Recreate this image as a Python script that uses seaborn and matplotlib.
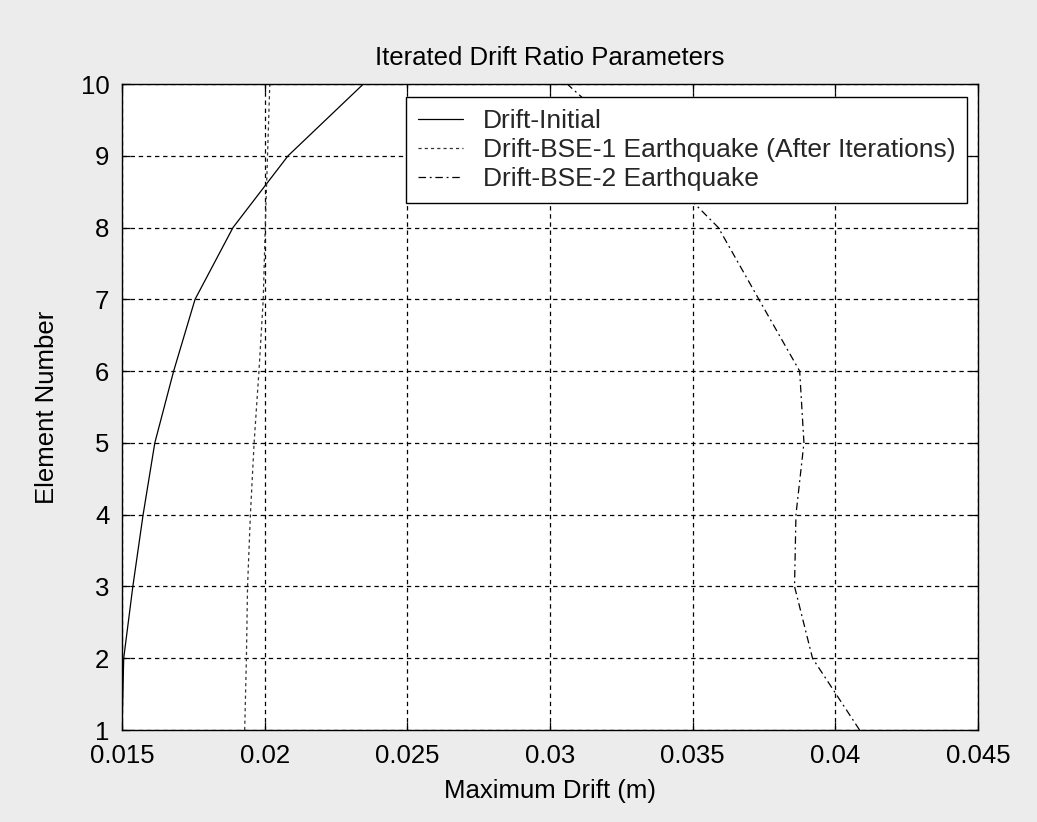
import matplotlib
matplotlib.use("Agg")
import matplotlib.pyplot as plt
import seaborn as sns
import pandas as pd

# Data
elements = [1, 2, 3, 4, 5, 6, 7, 8, 9, 10]
drift_initial = [0.0150, 0.01506, 0.01538, 0.01574, 0.01615, 0.01681, 0.01756, 0.01889, 0.02082, 0.02346]
drift_bse1 = [0.01930, 0.01936, 0.01940, 0.01950, 0.01963, 0.01980, 0.01995, 0.02002, 0.02010, 0.02018]
drift_bse2 = [0.04085, 0.03920, 0.03857, 0.03862, 0.03890, 0.03875, 0.03732, 0.03590, 0.03340, 0.03060]
labels = ["Drift-Initial", "Drift-BSE-1 Earthquake (After Iterations)", "Drift-BSE-2 Earthquake"]
x_ticks = [0.015, 0.02, 0.025, 0.03, 0.035, 0.04, 0.045]
x_ticklabels = ["0.015", "0.02", "0.025", "0.03", "0.035", "0.04", "0.045"]
y_ticks = [1, 2, 3, 4, 5, 6, 7, 8, 9, 10]

sns.set_theme(style="white")
plt.rcParams['font.family'] = ['Liberation Sans', 'DejaVu Sans']

W, H = 1037, 822
L, R, T, B = 122, 978, 84, 730
fig = plt.figure(figsize=(W / 100, H / 100), dpi=100, facecolor="#ececec")
ax = fig.add_axes([L / W, 1 - B / H, (R - L) / W, (B - T) / H])
ax.set_facecolor("white")

df = pd.DataFrame({
    "drift": drift_initial + drift_bse1 + drift_bse2,
    "element": elements * 3,
    "series": [labels[0]] * 10 + [labels[1]] * 10 + [labels[2]] * 10,
})

styles = ["-", (0, (2.5, 2.5)), (0, (6, 3, 1.5, 3))]
colors = ["black", "#333333", "black"]
for lab, ls, c in zip(labels, styles, colors):
    sub = df[df["series"] == lab]
    sns.lineplot(data=sub, x="drift", y="element", sort=False, estimator=None,
                 color=c, linewidth=0.9, linestyle=ls, label=lab, ax=ax)

ax.set_xlim(0.015, 0.045)
ax.set_ylim(1, 10)
ax.set_xticks(x_ticks)
ax.set_xticklabels(x_ticklabels)
ax.set_yticks(y_ticks)
ax.grid(True, color="black", linestyle=(0, (3.5, 3)), linewidth=0.9)
for s in ax.spines.values():
    s.set_color("black")
    s.set_linewidth(1.0)
ax.tick_params(direction="in", length=6, width=0.9, colors="black", labelsize=18.5,
               top=True, right=True, bottom=True, left=True)
ax.tick_params(axis="x", pad=10)
ax.tick_params(axis="y", pad=9)
for lbl in ax.get_xticklabels() + ax.get_yticklabels():
    lbl.set_color("black")

ax.set_title("Iterated Drift Ratio Parameters", fontsize=18.5, color="black", pad=14)
ax.set_xlabel("Maximum Drift (m)", fontsize=18.5, color="black", labelpad=8)
ax.set_ylabel("Element Number", fontsize=18.5, color="black", labelpad=16)

leg = ax.legend(loc="upper right", bbox_to_anchor=((967 - L) / (R - L), (B - 97) / (B - T)),
                fontsize=19, frameon=True, fancybox=False, framealpha=1,
                edgecolor="black", handlelength=1.7, borderpad=0.45, labelspacing=0.2,
                handletextpad=0.75, borderaxespad=0)
leg.get_frame().set_linewidth(1.0)

fig.savefig("out.png", dpi=100, facecolor=fig.get_facecolor())
